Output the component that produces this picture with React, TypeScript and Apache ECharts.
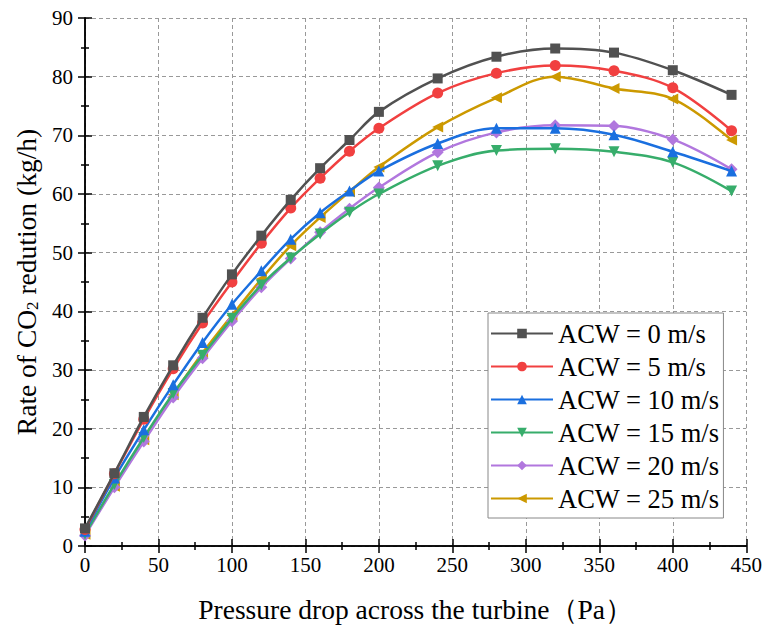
import React, { useEffect, useRef } from "react";
import * as echarts from "echarts";

const xValues = [0, 20, 40, 60, 80, 100, 120, 140, 160, 180, 200, 240, 280, 320, 360, 400, 440];
const seriesNames = ["ACW = 0 m/s", "ACW = 5 m/s", "ACW = 10 m/s", "ACW = 15 m/s", "ACW = 20 m/s", "ACW = 25 m/s"];
const acw0 = [3.0, 12.4, 22.0, 30.8, 38.9, 46.3, 52.9, 59.0, 64.4, 69.2, 74.0, 79.7, 83.4, 84.8, 84.1, 81.1, 76.9];
const acw5 = [2.8, 12.3, 21.6, 30.2, 38.0, 45.0, 51.6, 57.6, 62.7, 67.3, 71.2, 77.2, 80.6, 81.9, 81.0, 78.1, 70.8];
const acw10 = [2.5, 11.6, 19.8, 27.5, 34.7, 41.2, 46.9, 52.3, 56.8, 60.5, 63.9, 68.6, 71.2, 71.2, 70.1, 67.2, 63.9];
const acw15 = [2.0, 10.5, 18.5, 26.0, 32.5, 38.8, 44.5, 49.1, 53.2, 56.9, 60.0, 64.8, 67.4, 67.7, 67.2, 65.4, 60.5];
const acw20 = [1.8, 10.0, 17.8, 25.3, 32.0, 38.3, 44.1, 49.0, 53.5, 57.5, 61.1, 67.1, 70.5, 71.7, 71.6, 69.3, 64.2];
const acw25 = [2.0, 10.2, 18.1, 25.8, 32.9, 39.3, 45.5, 51.2, 56.0, 60.4, 64.6, 71.4, 76.4, 80.0, 78.0, 76.2, 69.2];
const allSeries = [acw0, acw5, acw10, acw15, acw20, acw25];
const colors = ["#515151", "#F14040", "#1A6FDF", "#37AD6B", "#B177DE", "#CC9900"];
const symbols = ["rect", "circle", "triangle", "triangle", "diamond", "triangle"];
const rotations = [0, 0, 0, 180, 0, 90];
const symbolSizes = [10, 11, 11, 11, 12, 11];

const FONT = "Liberation Serif";

export default function App() {
  const ref = useRef<HTMLDivElement>(null);
  useEffect(() => {
    document.body.style.margin = "0";
    if (!ref.current) return;
    const chart = echarts.init(ref.current, undefined, { renderer: "svg" });
    const axisLine = { show: true, lineStyle: { color: "#000", width: 1.5 } };
    const tick = { show: true, inside: true, length: 7, lineStyle: { color: "#000", width: 1.5 } };
    const minor = { show: true, splitNumber: 2, length: 4, lineStyle: { color: "#000", width: 1.5 } };
    const commonX = { type: "value" as const, min: 0, max: 450, interval: 50, axisLine, axisTick: tick, minorTick: minor };
    const commonY = { type: "value" as const, min: 0, max: 90, interval: 10, axisLine, axisTick: tick, minorTick: minor };
    chart.setOption({
      animation: false,
      backgroundColor: "#fff",
      textStyle: { fontFamily: FONT },
      grid: { left: 85, right: 17, top: 18, bottom: 79, containLabel: false },
      xAxis: [
        {
          ...commonX,
          position: "bottom",
          axisLabel: { color: "#000", fontFamily: FONT, fontSize: 21, margin: 8 },
          splitLine: { show: true, lineStyle: { color: "#999", type: [4, 3], width: 1 } },
          name: "Pressure drop across the turbine（Pa）",
          nameLocation: "middle",
          nameGap: 49,
          nameTextStyle: { color: "#000", fontFamily: FONT, fontSize: 27.5 },
        },
        {
          ...commonX,
          position: "top",
          axisLabel: { show: false },
          splitLine: { show: false },
        },
      ],
      yAxis: [
        {
          ...commonY,
          position: "left",
          axisLabel: { color: "#000", fontFamily: FONT, fontSize: 21, margin: 12 },
          splitLine: { show: true, lineStyle: { color: "#999", type: [4, 3], width: 1 } },
          name: "{a|Rate of CO}{s|2}{a| redution (kg/h)}",
          nameLocation: "middle",
          nameGap: 43,
          nameRotate: 90,
          nameTextStyle: {
            color: "#000",
            fontFamily: FONT,
            fontSize: 27.5,
            rich: {
              a: { fontFamily: FONT, fontSize: 27.5, color: "#000", lineHeight: 30 },
              s: { fontFamily: FONT, fontSize: 17, color: "#000", lineHeight: 30, padding: [12, 0, 0, 0] },
            },
          },
        },
        {
          ...commonY,
          position: "right",
          axisLabel: { show: false },
          splitLine: { show: false },
        },
      ],
      legend: {
        orient: "vertical",
        left: 488,
        top: 313,
        padding: [7, 4, 6, 2],
        borderColor: "#888",
        borderWidth: 1,
        backgroundColor: "#fff",
        itemWidth: 62,
        itemHeight: 12,
        itemGap: 6,
        textStyle: { color: "#000", fontFamily: FONT, fontSize: 26.5, lineHeight: 27 },
        data: seriesNames,
      },
      series: allSeries.map((vals, i) => ({
        name: seriesNames[i],
        type: "line",
        xAxisIndex: 0,
        yAxisIndex: 0,
        data: xValues.map((x, j) => [x, vals[j]]),
        smooth: 0.35,
        symbol: symbols[i],
        symbolSize: symbolSizes[i],
        symbolRotate: rotations[i],
        showAllSymbol: true,
        itemStyle: { color: colors[i] },
        lineStyle: { color: colors[i], width: 2.5 },
        z: 10 - i,
      })),
    });
    return () => chart.dispose();
  }, []);
  return <div ref={ref} style={{ width: 765, height: 628 }} />;
}
